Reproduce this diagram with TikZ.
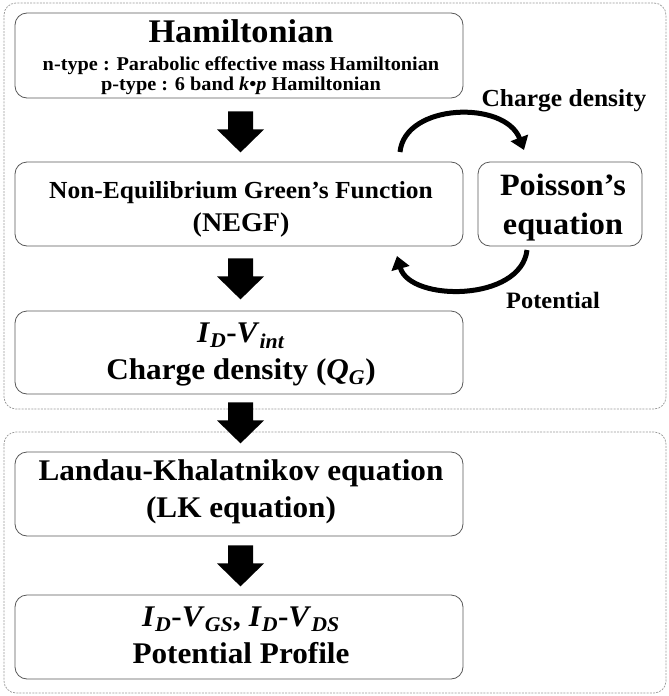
\documentclass[tikz,border=0pt]{standalone}
\usepackage{fontspec}
\setmainfont{Liberation Serif}[FakeStretch=1.04]
\usetikzlibrary{calc,arrows.meta}
\begin{document}
\begin{tikzpicture}[x=1pt,y=-1pt,
  outerbox/.style={draw=gray!80, line width=0.7pt, dash pattern=on 2pt off 1.2pt, rounded corners=12pt},
  stepbox/.style={draw=gray!70!black, line width=0.8pt, rounded corners=12pt, inner sep=0pt},
  txt/.style={anchor=base, inner sep=0pt, font=\bfseries},
  loop/.style={line width=5pt, -{Triangle[length=13pt,width=18pt]}},
  blockarrow/.pic={\fill (-12.5,0) -- (12.5,0) -- (12.5,18) -- (23.5,18) -- (0,41) -- (-23.5,18) -- (-12.5,18) -- cycle;}
]
\useasboundingbox (0,0) rectangle (669,696);
\fill[white] (0,0) rectangle (669,696);
% outer dashed groups
\draw[outerbox] (4,3) rectangle (666,409);
\draw[outerbox] (4,432) rectangle (666,693);
% boxes
\node[stepbox, minimum width=448pt, minimum height=85pt] (ham) at (239,55.5) {};
\node[stepbox, minimum width=448pt, minimum height=84pt] (negf) at (239,204) {};
\node[stepbox, minimum width=164pt, minimum height=84pt] (pois) at (560,204) {};
\node[stepbox, minimum width=448pt, minimum height=83pt] (id) at (239,352.5) {};
\node[stepbox, minimum width=448pt, minimum height=84pt] (lk) at (239,494) {};
\node[stepbox, minimum width=448pt, minimum height=84pt] (out) at (239,637) {};
% texts
\node[txt, font=\bfseries\fontsize{33}{33}\selectfont] (t1) at (241,42) {Hamiltonian};
\node[txt, font=\bfseries\fontsize{19.5}{20}\selectfont] (t2) at (241,70) {n-type : Parabolic effective mass Hamiltonian};
\node[txt, font=\bfseries\fontsize{19.5}{20}\selectfont] (t3) at (241,90) {p-type : 6 band \textit{k}•\textit{p} Hamiltonian};
\node[txt, font=\bfseries\fontsize{24.5}{25}\selectfont] (t4) at (241,198) {Non-Equilibrium Green’s Function};
\node[txt, font=\bfseries\fontsize{27}{27}\selectfont] (t5) at (241,231) {(NEGF)};
\node[txt, font=\bfseries\fontsize{31}{31}\selectfont] (t6) at (563,195) {Poisson’s};
\node[txt, font=\bfseries\fontsize{31}{31}\selectfont] (t7) at (563,234) {equation};
\node[txt, font=\bfseries\fontsize{24.5}{25}\selectfont] (cd) at (564,106) {Charge density};
\node[txt, font=\bfseries\fontsize{23.5}{24}\selectfont] (pot) at (553,308) {Potential};
\node[txt, font=\bfseries\fontsize{30}{30}\selectfont] (t8) at (241,342) {\textit{I}\textsubscript{\textit{D}}-\textit{V}\textsubscript{\textit{int}}};
\node[txt, font=\bfseries\fontsize{30}{30}\selectfont] (t9) at (241,379) {Charge density (\textit{Q}\textsubscript{\textit{G}})};
\node[txt, font=\bfseries\fontsize{30}{30}\selectfont] (t10) at (241,480) {Landau-Khalatnikov equation};
\node[txt, font=\bfseries\fontsize{30}{30}\selectfont] (t11) at (241,517) {(LK equation)};
\node[txt, font=\bfseries\fontsize{30}{30}\selectfont] (t12) at (241,626) {\textit{I}\textsubscript{\textit{D}}-\textit{V}\textsubscript{\textit{GS}}, \textit{I}\textsubscript{\textit{D}}-\textit{V}\textsubscript{\textit{DS}}};
\node[txt, font=\bfseries\fontsize{30}{30}\selectfont] (t13) at (241,663) {Potential Profile};
% block arrows
\pic at ($(ham.south)+(1.5,13)$) {blockarrow};
\pic at ($(negf.south)+(1.5,12)$) {blockarrow};
\pic at ($(id.south)+(1.5,8)$) {blockarrow};
\pic at ($(lk.south)+(1.5,9)$) {blockarrow};
% loop arrows
\coordinate (c1) at (400,152);
\coordinate (c2) at (524,150);
\coordinate (c3) at (527,250);
\coordinate (c4) at (397,256);
\draw[loop] (c1) .. controls (405,103) and (505,100) .. (c2);
\draw[loop] (c3) .. controls (521,302) and (410,302) .. (c4);
\end{tikzpicture}
\end{document}
